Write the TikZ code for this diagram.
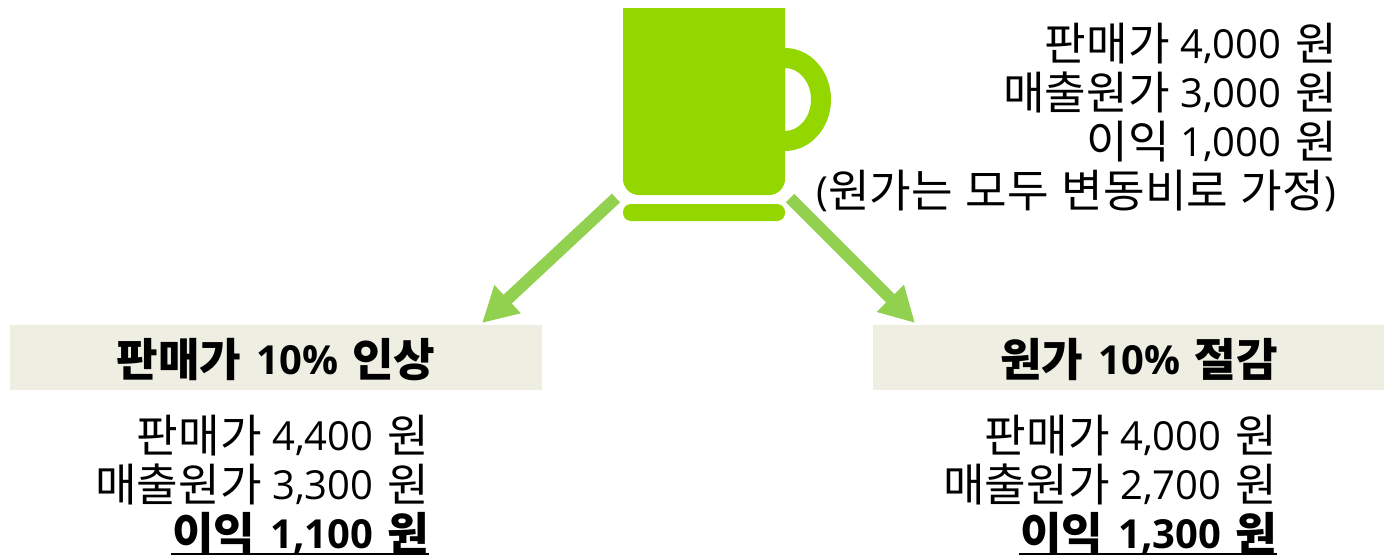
\documentclass[tikz,border=0pt]{standalone}
\usepackage{fontspec}
\usetikzlibrary{arrows.meta}
\setmainfont{Open Sans}
\newfontfamily\krf{Noto Sans CJK KR}[Scale=1.13]
\newfontfamily\krb{Noto Sans CJK KR Bold}[Scale=1.13]
\newcommand{\K}[1]{\raisebox{-2pt}{\krf #1}}
\newcommand{\B}[1]{\raisebox{-2pt}{\krb #1}}
\newcommand{\sepa}{\hspace{0.26em}}% Hangul to number
\newcommand{\sepb}{\hspace{0.35em}}% number to Hangul
\newcommand{\sepc}{\hspace{0.32em}}% Hangul to Hangul
\newcommand{\sepd}{\hspace{0.38em}}% Hangul to number, bold text
\definecolor{mug}{HTML}{94D600}
\definecolor{arr}{HTML}{92D050}
\definecolor{band}{HTML}{EEEEE2}
\tikzset{
  every node/.style={inner sep=0pt,outer sep=0pt},
  listtext/.style={anchor=base east,font=\fontsize{40pt}{49pt}\selectfont},
  boldtext/.style={listtext,font=\fontsize{40pt}{49pt}\selectfont\bfseries},
  bandbox/.style={fill=band,minimum height=65pt,anchor=north west},
  bandlabel/.style={anchor=base,font=\fontsize{40pt}{44pt}\selectfont\bfseries},
  bigarrow/.style={arr,line width=12pt,-{Triangle[length=35pt,width=36pt]}},
  mugfill/.style={fill=mug,draw=none},
  ruleline/.style={line width=2.6pt,black}
}
\begin{document}
\begin{tikzpicture}[x=1pt,y=-1pt]
\useasboundingbox (0,0) rectangle (1384,557);
% mug
\fill[mugfill,even odd rule] (785,48) arc[start angle=-90,end angle=90,x radius=46,y radius=51.5] -- cycle
  (785,68) arc[start angle=-90,end angle=90,x radius=26,y radius=31.5] -- cycle;
\fill[mugfill] (623,8) -- (785,8) [rounded corners=16pt] -- (785,195) -- (623,195) [sharp corners] -- cycle;
\fill[mugfill,rounded corners=8pt] (623,204) rectangle (785,221);
% boxes
\node[bandbox,minimum width=532pt] (left) at (10,325) {};
\node[bandbox,minimum width=511pt] (right) at (873,325) {};
\node[bandlabel] (leftlabel) at (276,374) {\B{판매가}\sepd 10\%\sepb\B{인상}};
\node[bandlabel] (rightlabel) at (1139,374) {\B{원가}\sepd 10\%\sepb\B{절감}};
% arrows
\coordinate (mugL) at (616,198);
\coordinate (mugR) at (790,198);
\coordinate (tipL) at (482,323);
\coordinate (tipR) at (915,323);
\draw[bigarrow] (mugL) -- (tipL);
\draw[bigarrow] (mugR) -- (tipR);
% texts
\node[listtext] (t1) at (1337,58) {\K{판매가}\sepa 4,000\sepb\K{원}};
\node[listtext] (t2) at (1337,107) {\K{매출원가}\sepa 3,000\sepb\K{원}};
\node[listtext] (t3) at (1337,156) {\K{이익}\sepa 1,000\sepb\K{원}};
\node[listtext] (t4) at (1336,205) {(\K{원가는}\sepc\K{모두}\sepc\K{변동비로}\sepc\K{가정})};
\node[listtext] (l1) at (429,450) {\K{판매가}\sepa 4,400\sepb\K{원}};
\node[listtext] (l2) at (429,499) {\K{매출원가}\sepa 3,300\sepb\K{원}};
\node[boldtext] (l3) at (429,548) {\B{이익}\sepd 1,100\sepb\B{원}};
\node[listtext] (r1) at (1277,450) {\K{판매가}\sepa 4,000\sepb\K{원}};
\node[listtext] (r2) at (1277,499) {\K{매출원가}\sepa 2,700\sepb\K{원}};
\node[boldtext] (r3) at (1277,548) {\B{이익}\sepd 1,300\sepb\B{원}};
\draw[ruleline] ([shift={(-1,6)}]l3.base west) -- ([shift={(0,6)}]l3.base east);
\draw[ruleline] ([shift={(-1,6)}]r3.base west) -- ([shift={(0,6)}]r3.base east);
\end{tikzpicture}
\end{document}
